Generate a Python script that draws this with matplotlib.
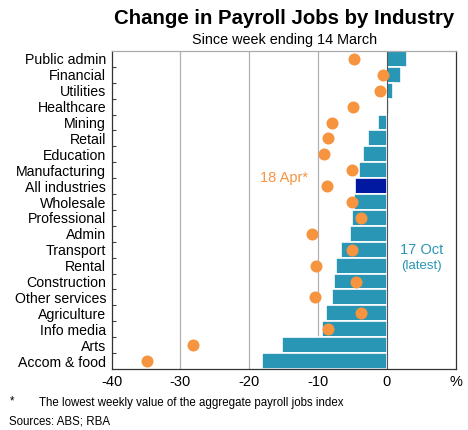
import numpy as np
import matplotlib.pyplot as plt

plt.rcParams['font.family'] = ['Liberation Sans', 'DejaVu Sans']

industries = ['Public admin', 'Financial', 'Utilities', 'Healthcare', 'Mining',
              'Retail', 'Education', 'Manufacturing', 'All industries',
              'Wholesale', 'Professional', 'Admin', 'Transport', 'Rental',
              'Construction', 'Other services', 'Agriculture', 'Info media',
              'Arts', 'Accom & food']
# change to latest week (17 Oct), per cent
latest = [2.9, 2.0, 0.9, 0.35, -1.3, -2.75, -3.4, -4.1, -4.6, -4.7, -5.0,
          -5.4, -6.7, -7.35, -7.7, -7.9, -8.9, -9.4, -15.2, -18.1]
# change to trough (18 Apr), per cent
trough = [-4.8, -0.5, -1.0, -4.9, -7.9, -8.6, -9.1, -5.0, -8.65, -5.0, -3.7,
          -10.9, -5.0, -10.3, -4.45, -10.5, -3.7, -8.6, -28.2, -34.9]
xticks = [-40, -30, -20, -10, 0]

teal = '#2a96b5'
navy = '#0019a0'
orange = '#f7943f'

fig = plt.figure(figsize=(4.68, 4.3), dpi=100)
ax = fig.add_axes([0.2387, 0.1419, 0.9735 - 0.2387, 0.8814 - 0.1419])

n = len(industries)
y = np.arange(n)
colors = [navy if c == 'All industries' else teal for c in industries]
ax.barh(y, latest, height=1.0, color=colors, edgecolor='white', linewidth=1.2, zorder=2)
ax.scatter(trough, y, s=75, color=orange, zorder=3, linewidths=0)

for gx in [-30, -20, -10]:
    ax.axvline(gx, color='#b0b0b0', linewidth=0.9, zorder=1)
ax.axvline(0, color='#555555', linewidth=0.8, zorder=2.5)

ax.set_xlim(-40, 10)
ax.set_ylim(n - 0.5, -0.5)
ax.set_xticks(xticks)
ax.set_xticklabels([str(t) for t in xticks], fontsize=10.5)
ax.tick_params(axis='x', length=0, pad=4)
ax.set_yticks(y)
ax.set_yticklabels(industries, fontsize=10.2)
ax.tick_params(axis='y', length=0, pad=4)
ax.set_yticks(np.arange(n - 1) + 0.5, minor=True)
ax.tick_params(axis='y', which='minor', direction='in', length=3, width=0.8,
               color='#444444')
for s in ax.spines.values():
    s.set_linewidth(0.9)
    s.set_color('#333333')
ax.spines['top'].set_color('#aaaaaa')

ax.annotate('%', xy=(1.0, 0), xycoords='axes fraction', xytext=(0, -4),
            textcoords='offset points', ha='center', va='top', fontsize=10.5)

ax.text(-14.9, 7.5, '18 Apr*', color=orange, fontsize=10.5, ha='center', va='center')
ax.text(5.0, 12.0, '17 Oct', color=teal, fontsize=10.5, ha='center', va='center')
ax.text(5.0, 13.0, '(latest)', color=teal, fontsize=9.5, ha='center', va='center')

fig.text(0.607, 0.958, 'Change in Payroll Jobs by Industry', fontsize=14.7,
         fontweight='bold', ha='center', va='center')
fig.text(0.607, 0.907, 'Since week ending 14 March', fontsize=10.4,
         ha='center', va='center')
fig.text(0.02, 0.067, '*', fontsize=8.3, va='center')
fig.text(0.083, 0.062, 'The lowest weekly value of the aggregate payroll jobs index',
         fontsize=8.3, va='center')
fig.text(0.02, 0.02, 'Sources: ABS; RBA', fontsize=8.3, va='center')

fig.savefig('out.png', dpi=100)
